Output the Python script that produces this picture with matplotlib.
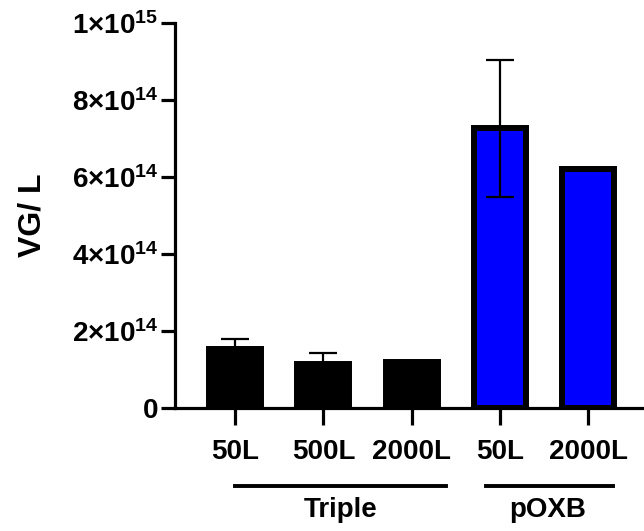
import matplotlib
matplotlib.use("Agg")
import matplotlib.pyplot as plt
import matplotlib.transforms as mtransforms

plt.rcParams['font.family'] = ['Liberation Sans', 'DejaVu Sans']
plt.rcParams['font.weight'] = 'bold'
plt.rcParams['mathtext.fontset'] = 'custom'
plt.rcParams['mathtext.rm'] = 'Liberation Sans:bold'
plt.rcParams['mathtext.it'] = 'Liberation Sans:bold'
plt.rcParams['mathtext.bf'] = 'Liberation Sans:bold'

# data
labels = ["50L", "500L", "2000L", "50L", "2000L"]
values = [1.52e14, 1.13e14, 1.19e14, 7.27e14, 6.22e14]
errors = [0.28e14, 0.31e14, 0, 1.78e14, 0]
colors = ["black", "black", "black", "#0000FF", "#0000FF"]
groups = ["Triple", "pOXB"]
group_spans = [(0.0, 2.39), (2.84, 4.28)]
group_centers = [1.19, 3.54]
yticks = [0, 2e14, 4e14, 6e14, 8e14, 1e15]
ytick_labels = ["0", "$2×10^{14}$", "$4×10^{14}$", "$6×10^{14}$",
                "$8×10^{14}$", "$1×10^{15}$"]

fig = plt.figure(figsize=(6.44, 5.31), dpi=100)
ax = fig.add_axes([175 / 644, 123 / 531, 469 / 644, 385 / 531])

x = list(range(len(values)))
ax.bar(x, values, width=0.59, color=colors, edgecolor="black", linewidth=4.3, zorder=2)
for xi, v, e in zip(x, values, errors):
    if e > 0:
        ax.errorbar(xi, v, yerr=e, fmt="none", ecolor="black", elinewidth=1.6,
                    capsize=10, capthick=1.6, zorder=3)

ax.set_xlim(-0.68, 4.63)
ax.set_ylim(0, 1e15)
ax.set_yticks(yticks)
ax.set_yticklabels(ytick_labels)
ax.set_xticks(x)
ax.set_xticklabels(labels)
ax.set_ylabel("VG/ L", fontsize=23, fontweight="bold", labelpad=18)

for s in ["top", "right"]:
    ax.spines[s].set_visible(False)
for s in ["left", "bottom"]:
    ax.spines[s].set_linewidth(2.3)
ax.tick_params(axis="y", width=2.3, length=10, labelsize=20, pad=2)
ax.tick_params(axis="x", width=2.3, length=12, labelsize=20, pad=10)

trans = mtransforms.blended_transform_factory(ax.transData, ax.transAxes)
for name, (x0, x1), xc in zip(groups, group_spans, group_centers):
    ax.plot([x0, x1], [-0.203, -0.203], color="black", lw=2.8, transform=trans,
            clip_on=False)
    ax.text(xc, -0.264, name, transform=trans, ha="center", va="center",
            fontsize=20, fontweight="bold")

fig.savefig("out.png", dpi=100)
